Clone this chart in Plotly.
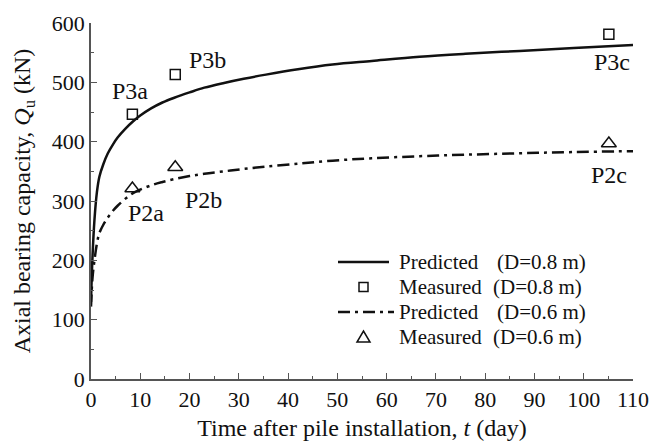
import plotly.graph_objects as go

# Predicted curves
pred08_t = [0, 0.3, 0.7, 1.2, 1.7, 2.5, 3.4, 4.5, 5.4, 7, 8.5, 10, 12.2, 14.5, 16.9, 20, 23, 27, 31, 35.5, 42, 49, 57, 66.7, 76, 87, 98, 110]
pred08_q = [130, 205, 268, 315, 341, 362, 380, 396, 407, 422, 434, 444, 456, 466, 474, 483, 491, 499, 506, 513, 522, 530, 536, 543, 548, 553, 558, 563]
pred06_t = [0, 0.3, 0.7, 1.2, 1.7, 2.5, 3.4, 4.5, 5.4, 7, 8.7, 10.5, 12.8, 14.5, 16.9, 20, 23, 27, 31, 35.5, 42, 49, 57, 66.7, 76, 87, 98, 110]
pred06_q = [122, 170, 200, 228, 246, 260, 272, 284, 292, 304, 314, 321, 328, 332, 337, 342, 346, 350, 354, 358, 363, 368, 372, 375.5, 378, 380.5, 382.5, 384]

# Measured points
meas08_t = [8.4, 17.1, 105.1]
meas08_q = [446, 513, 581]
meas06_t = [8.4, 17.1, 105.1]
meas06_q = [321, 357, 397]

# Point labels
label_text = ["P3a", "P3b", "P3c", "P2a", "P2b", "P2c"]
label_t = [7.9, 23.7, 105.8, 11.2, 22.9, 105.1]
label_q = [486, 538, 535, 280, 302, 344]

# Legend entries
legend_names = ["Predicted", "Measured", "Predicted", "Measured"]
legend_dia = ["(D=0.8 m)", "(D=0.8 m)", "(D=0.6 m)", "(D=0.6 m)"]

FONT = "Liberation Serif, Times New Roman, serif"
INK = "#111111"
DASHDOT = "12px,5px,3px,5px"

fig = go.Figure()
fig.add_trace(go.Scatter(x=pred08_t, y=pred08_q, mode="lines",
                         line=dict(color=INK, width=2.5, shape="spline", smoothing=1.0),
                         name=legend_names[0] + " " + legend_dia[0]))
fig.add_trace(go.Scatter(x=meas08_t, y=meas08_q, mode="markers",
                         marker=dict(symbol="square-open", size=10, color=INK,
                                     line=dict(width=1.5)),
                         name=legend_names[1] + " " + legend_dia[1]))
fig.add_trace(go.Scatter(x=pred06_t, y=pred06_q, mode="lines",
                         line=dict(color=INK, width=2.5, dash=DASHDOT,
                                   shape="spline", smoothing=1.0),
                         name=legend_names[2] + " " + legend_dia[2]))
fig.add_trace(go.Scatter(x=meas06_t, y=meas06_q, mode="markers",
                         marker=dict(symbol="triangle-up-open", size=13, color=INK,
                                     line=dict(width=1.5)),
                         name=legend_names[3] + " " + legend_dia[3]))

for txt, xt, yq in zip(label_text, label_t, label_q):
    fig.add_annotation(x=xt, y=yq, text=txt, showarrow=False,
                       font=dict(family=FONT, size=24, color=INK))

# ---- hand-drawn legend (paper coordinates, from reference pixel positions) ----
RL, RR, RT, RB = 91, 633, 23, 379   # plot area in the reference picture
def px(xp):
    return (xp - RL) / (RR - RL)
def py(yp):
    return (RB - yp) / (RB - RT)

rows_y = [262, 287, 312, 337]
name_x = 397
dia_x = [495, 491, 495, 491]
for i, yy in enumerate(rows_y):
    fig.add_annotation(xref="paper", yref="paper", x=px(name_x), y=py(yy),
                       xanchor="left", yanchor="middle", text=legend_names[i],
                       showarrow=False, font=dict(family=FONT, size=21, color=INK))
    fig.add_annotation(xref="paper", yref="paper", x=px(dia_x[i]), y=py(yy),
                       xanchor="left", yanchor="middle", text=legend_dia[i],
                       showarrow=False, font=dict(family=FONT, size=21, color=INK))
fig.add_shape(type="line", xref="paper", yref="paper",
              x0=px(338), x1=px(389), y0=py(rows_y[0]), y1=py(rows_y[0]),
              line=dict(color=INK, width=2.5))
fig.add_shape(type="line", xref="paper", yref="paper",
              x0=px(338), x1=px(394), y0=py(rows_y[2]), y1=py(rows_y[2]),
              line=dict(color=INK, width=2.5, dash=DASHDOT))
fig.add_shape(type="rect", xref="paper", yref="paper",
              x0=px(359), x1=px(368), y0=py(rows_y[1] + 4.5), y1=py(rows_y[1] - 4.5),
              line=dict(color=INK, width=1.5))
tx0, tx1, txm = px(357), px(370), px(363.5)
ty0, ty1 = py(rows_y[3] + 5), py(rows_y[3] - 6)
fig.add_shape(type="path", xref="paper", yref="paper",
              path=f"M {tx0} {ty0} L {tx1} {ty0} L {txm} {ty1} Z",
              line=dict(color=INK, width=1.5))

axis_common = dict(
    showline=True, linecolor="#555555", linewidth=1.5,
    ticks="inside", ticklen=6, tickwidth=1.2, tickcolor="#555555",
    showgrid=False, zeroline=False, mirror=False, automargin=False,
    tickfont=dict(family=FONT, size=22, color=INK),
)

fig.update_xaxes(range=[0, 110], dtick=10, tick0=0,
                 minor=dict(dtick=5, ticks="inside", ticklen=3, tickcolor="#555555", tickwidth=1.2),
                 title=dict(text="Time after pile installation, <i>t</i> (day)",
                            font=dict(family=FONT, size=24, color=INK), standoff=8),
                 **axis_common)
fig.update_yaxes(range=[0, 600], dtick=100, tick0=0,
                 minor=dict(dtick=50, ticks="inside", ticklen=3, tickcolor="#555555", tickwidth=1.2),
                 title=dict(text="Axial bearing capacity, <i>Q</i><sub>u</sub> (kN)",
                            font=dict(family=FONT, size=24, color=INK), standoff=14),
                 **axis_common)

# The page body has an 8px margin, so the figure is drawn 8px in and sized to fit.
OFF = 8
W, H = 663 - OFF, 443 - OFF
fig.update_layout(
    width=W, height=H,
    margin=dict(l=RL - OFF, r=W - (RR - OFF), t=RT - OFF, b=H - (RB - OFF), autoexpand=False),
    plot_bgcolor="white", paper_bgcolor="white",
    font=dict(family=FONT, size=21, color=INK),
    showlegend=False,
)

fig.write_html("out.html")
